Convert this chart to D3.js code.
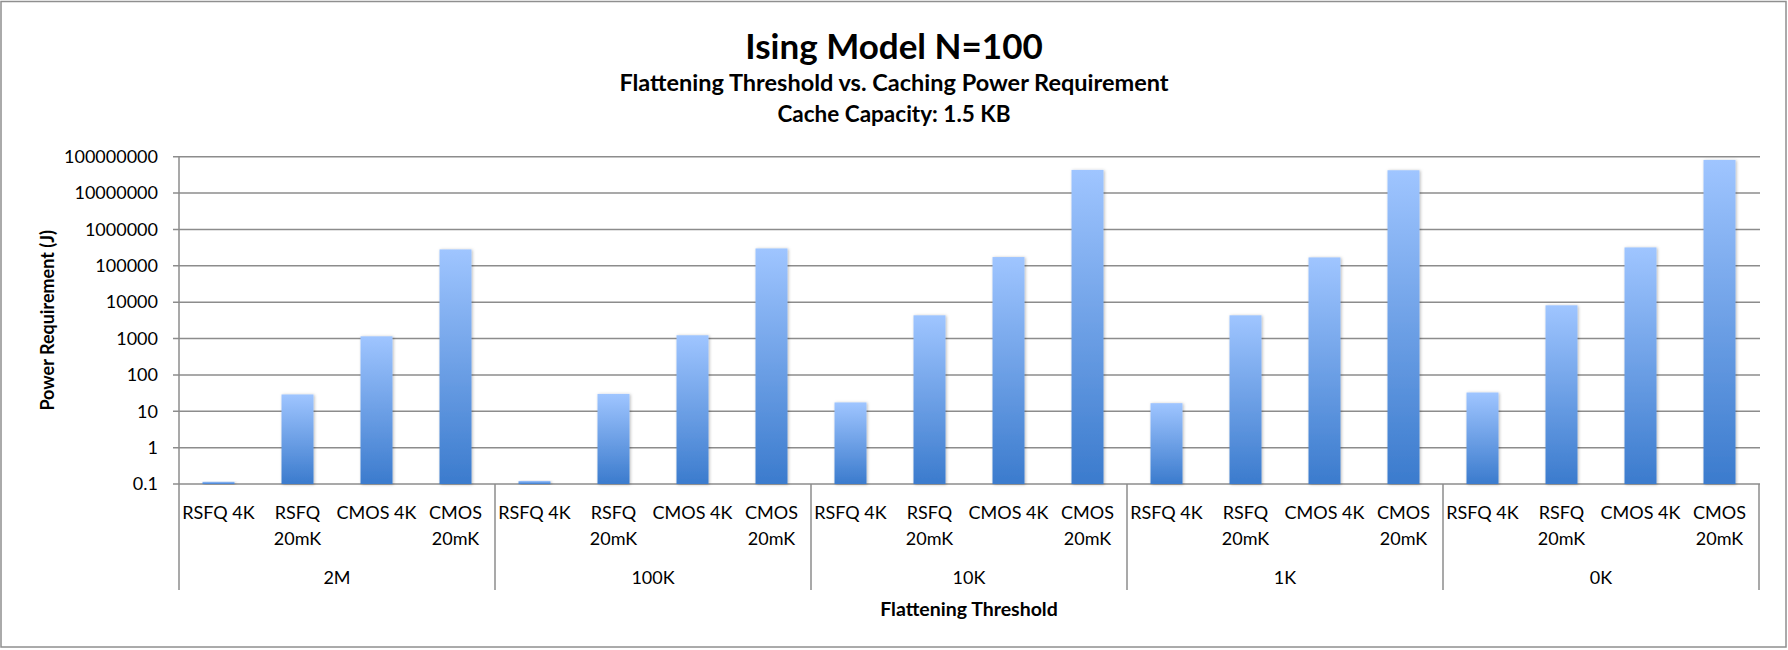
<!DOCTYPE html>
<html>
<head>
<meta charset="utf-8">
<script src="https://cdn.jsdelivr.net/npm/d3@7"></script>
<style>
    html, body { margin: 0; padding: 0; background: #fff; }
    svg { display: block; font-family: Lato, "Open Sans", sans-serif; }
    .domain { display: none; }
</style>
</head>
<body>
<svg id="chart" width="1788" height="650"></svg>
<script>
(function () {
    "use strict";

    var groups = ["2M", "100K", "10K", "1K", "0K"];
    var categories = ["RSFQ 4K", "RSFQ 20mK", "CMOS 4K", "CMOS 20mK"];

    // power requirement (J) per flattening threshold, in category order
    var values2M = [0.115, 29, 1150, 282000];
    var values100K = [0.121, 30, 1230, 300000];
    var values10K = [17.5, 4350, 174000, 43300000];
    var values1K = [16.7, 4350, 170000, 42400000];
    var values0K = [32.8, 8190, 320000, 81500000];

    var yTicks = [0.1, 1, 10, 100, 1000, 10000, 100000, 1000000, 10000000, 100000000];
    var yTickLabels = ["0.1", "1", "10", "100", "1000", "10000", "100000", "1000000", "10000000", "100000000"];

    var seriesByGroup = [values2M, values100K, values10K, values1K, values0K];

    var left = 179, right = 1759, top = 156.7, bottom = 484, axisFoot = 590;

    var svg = d3.select("#chart");

    var defs = svg.append("defs");
    var grad = defs.append("linearGradient")
        .attr("id", "barFill")
        .attr("x1", 0).attr("y1", 0).attr("x2", 0).attr("y2", 1);
    grad.append("stop").attr("offset", "0%").attr("stop-color", "#9fc5ff");
    grad.append("stop").attr("offset", "100%").attr("stop-color", "#3b7bcd");

    var shadow = defs.append("filter")
        .attr("id", "barShadow")
        .attr("x", "-30%").attr("y", "-5%").attr("width", "160%").attr("height", "110%");
    shadow.append("feDropShadow")
        .attr("dx", 1).attr("dy", 0.5)
        .attr("stdDeviation", 1.6)
        .attr("flood-color", "#000")
        .attr("flood-opacity", 0.28);

    // chart border
    svg.append("rect")
        .attr("x", 1).attr("y", 1.5)
        .attr("width", 1785).attr("height", 645.5)
        .attr("fill", "none")
        .attr("stroke", "#8f8f8f")
        .attr("stroke-width", 1.5);

    var x0 = d3.scaleBand().domain(groups).range([left, right]);
    var x1 = d3.scaleBand().domain(categories).range([0, x0.bandwidth()]);
    var y = d3.scaleLog().domain([0.1, 100000000]).range([bottom, top]);

    var barWidth = x1.bandwidth() * 0.405;

    // gridlines (with the short ticks left of the axis)
    svg.append("g")
        .selectAll("line")
        .data(yTicks)
        .enter().append("line")
        .attr("x1", left - 6)
        .attr("x2", right + 1)
        .attr("y1", function (d) { return y(d); })
        .attr("y2", function (d) { return y(d); })
        .attr("stroke", "#8c8c8c")
        .attr("stroke-width", 1.5);

    var yAxis = d3.axisLeft(y)
        .tickValues(yTicks)
        .tickSize(0)
        .tickPadding(21)
        .tickFormat(function (d, i) { return yTickLabels[i]; });

    var $yAxis = svg.append("g")
        .attr("transform", "translate(" + left + ",0)")
        .call(yAxis);
    $yAxis.selectAll("text")
        .attr("font-size", 18)
        .attr("fill", "#000")
        .attr("font-family", "Lato");

    // bars
    var $groups = svg.append("g")
        .selectAll("g")
        .data(groups)
        .enter().append("g")
        .attr("transform", function (g) { return "translate(" + x0(g) + ",0)"; });

    $groups.selectAll("rect")
        .data(function (g, i) {
            return seriesByGroup[i].map(function (v, j) {
                return { category: categories[j], value: v };
            });
        })
        .enter().append("rect")
        .attr("x", function (d) { return x1(d.category) + (x1.bandwidth() - barWidth) / 2; })
        .attr("y", function (d) { return y(d.value); })
        .attr("width", barWidth)
        .attr("height", function (d) { return bottom - y(d.value); })
        .attr("fill", "url(#barFill)")
        .attr("filter", "url(#barShadow)");

    // axis lines
    svg.append("line")
        .attr("x1", left).attr("x2", left)
        .attr("y1", top).attr("y2", axisFoot)
        .attr("stroke", "#8c8c8c").attr("stroke-width", 1.5);

    var boundaries = groups.map(function (g) { return x0(g); }).concat([right]);
    svg.append("g")
        .selectAll("line")
        .data(boundaries.slice(1))
        .enter().append("line")
        .attr("x1", function (d) { return d; })
        .attr("x2", function (d) { return d; })
        .attr("y1", bottom)
        .attr("y2", axisFoot)
        .attr("stroke", "#8c8c8c")
        .attr("stroke-width", 1.5);

    // category labels, the 20mK ones wrap onto two lines
    $groups.selectAll("text.cat")
        .data(categories)
        .enter().append("text")
        .attr("class", "cat")
        .attr("text-anchor", "middle")
        .attr("font-size", 18)
        .each(function (c) {
            var $t = d3.select(this);
            var lines = /20mK$/.test(c) ? c.split(" ") : [c];
            lines.forEach(function (line, k) {
                $t.append("tspan")
                    .attr("x", x1(c) + x1.bandwidth() / 2)
                    .attr("y", 519 + k * 26)
                    .text(line);
            });
        });

    $groups.append("text")
        .attr("x", x0.bandwidth() / 2)
        .attr("y", 584)
        .attr("text-anchor", "middle")
        .attr("font-size", 18)
        .text(function (g) { return g; });

    // titles
    svg.append("text")
        .attr("x", 894).attr("y", 59)
        .attr("text-anchor", "middle")
        .attr("font-size", 35)
        .attr("font-weight", "bold")
        .text("Ising Model N=100");

    svg.append("text")
        .attr("x", 894).attr("y", 91)
        .attr("text-anchor", "middle")
        .attr("font-size", 23.5)
        .attr("font-weight", "bold")
        .text("Flattening Threshold vs. Caching Power Requirement");

    svg.append("text")
        .attr("x", 894).attr("y", 122)
        .attr("text-anchor", "middle")
        .attr("font-size", 22.5)
        .attr("font-weight", "bold")
        .text("Cache Capacity: 1.5 KB");

    svg.append("text")
        .attr("x", (left + right) / 2).attr("y", 615.5)
        .attr("text-anchor", "middle")
        .attr("font-size", 19.5)
        .attr("font-weight", "bold")
        .text("Flattening Threshold");

    svg.append("text")
        .attr("transform", "translate(54," + (top + bottom) / 2 + ") rotate(-90)")
        .attr("text-anchor", "middle")
        .attr("font-size", 18)
        .attr("font-weight", "bold")
        .text("Power Requirement (J)");

})();
</script>
</body>
</html>
